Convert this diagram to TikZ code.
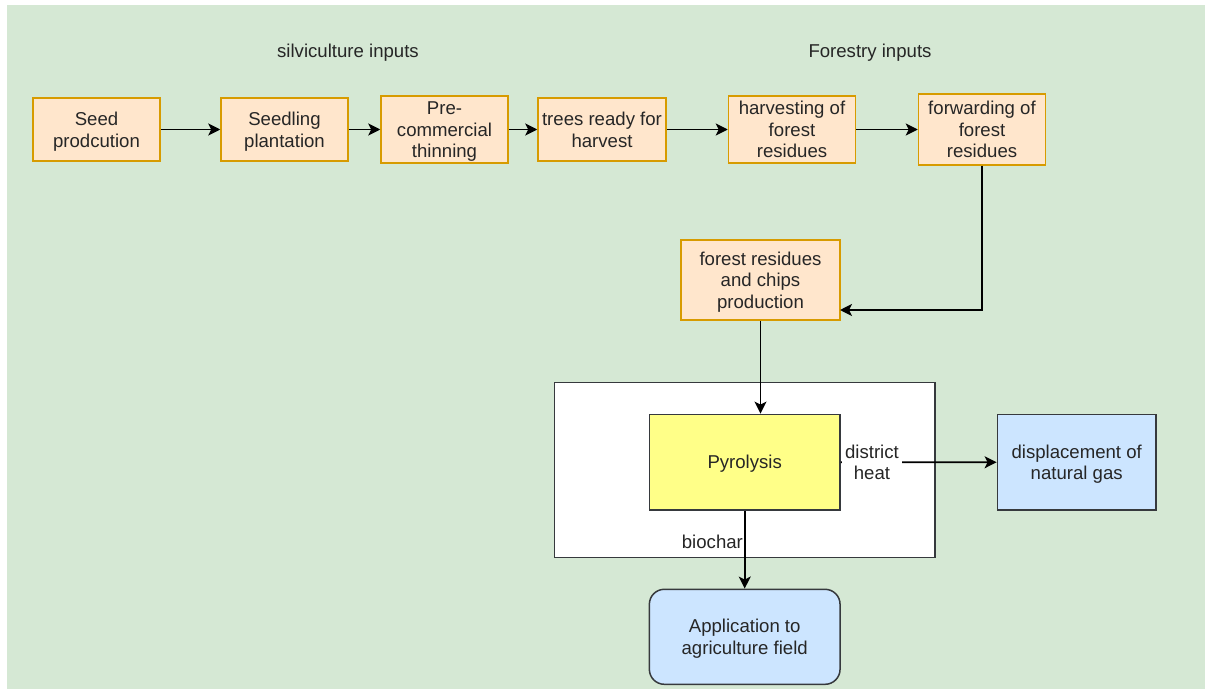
\documentclass[tikz,border=0pt]{standalone}
\usepackage{fontspec}
\setmainfont{Liberation Sans}
\usetikzlibrary{arrows.meta}
\definecolor{bggreen}{HTML}{D5E8D4}
\definecolor{orfill}{HTML}{FFE6CC}
\definecolor{ordraw}{HTML}{D79B00}
\definecolor{yelfill}{HTML}{FFFF88}
\definecolor{bluefill}{HTML}{CCE5FF}
\definecolor{darkline}{HTML}{36393D}
\definecolor{txt}{HTML}{262626}
\newcommand{\ml}[1]{\rule{0pt}{18.4pt}#1\rule[-5pt]{0pt}{0pt}}
\tikzset{
  every node/.style={font=\fontsize{18.6}{21.7}\selectfont, text=txt, align=center, inner sep=0pt},
  obox/.style={draw=ordraw, fill=orfill, line width=1.5pt},
  gbox/.style={draw=darkline, line width=1.5pt},
  flow/.style={draw=black, line width=1.6pt, -{Stealth[length=12pt,width=12pt,inset=3pt]}},
}
\begin{document}
\begin{tikzpicture}[x=1pt,y=-1pt]
\useasboundingbox (0,0) rectangle (1205,690);
\fill[white] (0,0) rectangle (1205,690);
\fill[bggreen] (7,5) rectangle (1205,689);

\node (tsilv) at (348,51) {\ml{silviculture inputs}};
\node (tfor) at (870,51) {\ml{Forestry inputs}};

\node[obox, minimum width=127pt, minimum height=63pt] (seed) at (96.5,129.5) {\ml{Seed\\prodcution}};
\node[obox, minimum width=127pt, minimum height=63pt] (seedling) at (284.5,129.5) {\ml{Seedling\\plantation}};
\node[obox, minimum width=127pt, minimum height=63pt] (pre) at (444.5,129.5) {\ml{Pre-\\commercial\\thinning}};
\node[obox, minimum width=128pt, minimum height=63pt] (trees) at (602,129.5) {\ml{trees ready for\\harvest}};
\node[obox, minimum width=127pt, minimum height=63pt] (harv) at (792,129.5) {\ml{harvesting of\\forest\\residues}};
\node[obox, minimum width=127pt, minimum height=71pt] (fwd) at (982,129.5) {\ml{forwarding of\\forest\\residues}};
\node[obox, minimum width=159pt, minimum height=80pt] (chips) at (760.5,280) {\ml{forest residues\\and chips\\production}};

\node[gbox, fill=white, minimum width=380.7pt, minimum height=175pt] (outer) at (744.7,470.2) {};
\node[gbox, fill=yelfill, minimum width=190.7pt, minimum height=95.7pt] (pyro) at (744.7,462.2) {\ml{Pyrolysis}};
\node[gbox, fill=bluefill, minimum width=158.7pt, minimum height=95.3pt] (disp) at (1076.7,462.3) {\ml{displacement of\\natural gas}};
\node[gbox, fill=bluefill, rounded corners=15pt, minimum width=190.7pt, minimum height=95pt] (app) at (744.7,636.8) {\ml{Application to\\agriculture field}};

\draw[flow] (seed) -- (seedling);
\draw[flow] (seedling) -- (pre);
\draw[flow] (pre) -- (trees);
\draw[flow] (trees) -- (harv);
\draw[flow] (harv) -- (fwd);
\coordinate (chipsin) at (840,310);
\draw[flow] (fwd.south) |- (chipsin);
\draw[flow] (chips.south) -- (chips.south |- pyro.north);
\draw[flow] (pyro) -- node[pos=0.2, fill=white, inner xsep=3.5pt, inner ysep=0pt] {\ml{district\\heat}} (disp);
\draw[flow] (pyro) -- node[pos=0.405, anchor=east, inner xsep=1pt] {\ml{biochar}} (app);
\end{tikzpicture}
\end{document}
